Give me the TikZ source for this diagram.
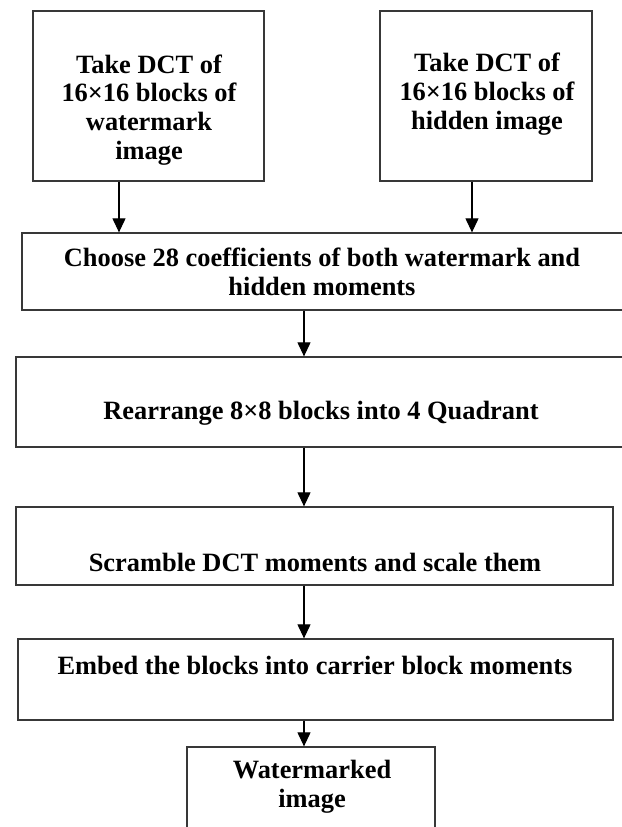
\documentclass[tikz,border=0pt]{standalone}
\usepackage{fontspec}
\setmainfont{Liberation Serif}
\usetikzlibrary{arrows.meta}
\begin{document}
\begin{tikzpicture}[
        x=0.5pt, y=-0.5pt,
        blk/.style={draw=black!78, line width=0.65pt, rectangle, inner sep=0pt},
        txt/.style={align=center, inner sep=0pt, font=\fontsize{13.2}{14.4}\selectfont\bfseries},
        arr/.style={draw=black, line width=0.55pt, -{Triangle[width=6.5pt,length=7pt]}},
        ]
    \useasboundingbox (0,0) rectangle (622,827);
    % the boxes
    \node [blk, minimum width=115.5pt, minimum height=85pt] (dctw) at (148.5,96) {};
    \node [blk, minimum width=106pt, minimum height=85pt] (dcth) at (486,96) {};
    \node [blk, minimum width=301pt, minimum height=38.5pt] (choose) at (323,271.5) {};
    \node [blk, minimum width=304pt, minimum height=45pt] (rearr) at (320,402) {};
    \node [blk, minimum width=298.5pt, minimum height=39pt] (scram) at (314.5,546) {};
    \node [blk, minimum width=297.5pt, minimum height=40.5pt] (embed) at (315.5,679.5) {};
    \node [blk, minimum width=124pt, minimum height=46.5pt] (wmark) at (311,793.5) {};
    % the texts
    \node [txt] (tdctw) at (149,110) {Take DCT of\\16×16 blocks of\\watermark\\image};
    \node [txt] (tdcth) at (487,94) {Take DCT of\\16×16 blocks of\\hidden image};
    \node [txt] (tchoose) at (322,271.5) {Choose 28 coefficients of both watermark and\\hidden moments};
    \node [txt] (trearr) at (321,413) {Rearrange 8×8 blocks into 4 Quadrant};
    \node [txt] (tscram) at (315,562) {Scramble DCT moments and scale them};
    \node [txt] (tembed) at (315,665) {Embed the blocks into carrier block moments};
    \node [txt] (twmark) at (312,787) {Watermarked\\image};
    % columns of the arrows
    \coordinate (la) at (119,0);
    \coordinate (ra) at (472,0);
    \coordinate (ma) at (304,0);
    \draw [arr] (dctw.south -| la) -- (choose.north -| la);
    \draw [arr] (dcth.south -| ra) -- (choose.north -| ra);
    \draw [arr] (choose.south -| ma) -- (rearr.north -| ma);
    \draw [arr] (rearr.south -| ma) -- (scram.north -| ma);
    \draw [arr] (scram.south -| ma) -- (embed.north -| ma);
    \draw [arr] (embed.south -| ma) -- (wmark.north -| ma);
\end{tikzpicture}
\end{document}
